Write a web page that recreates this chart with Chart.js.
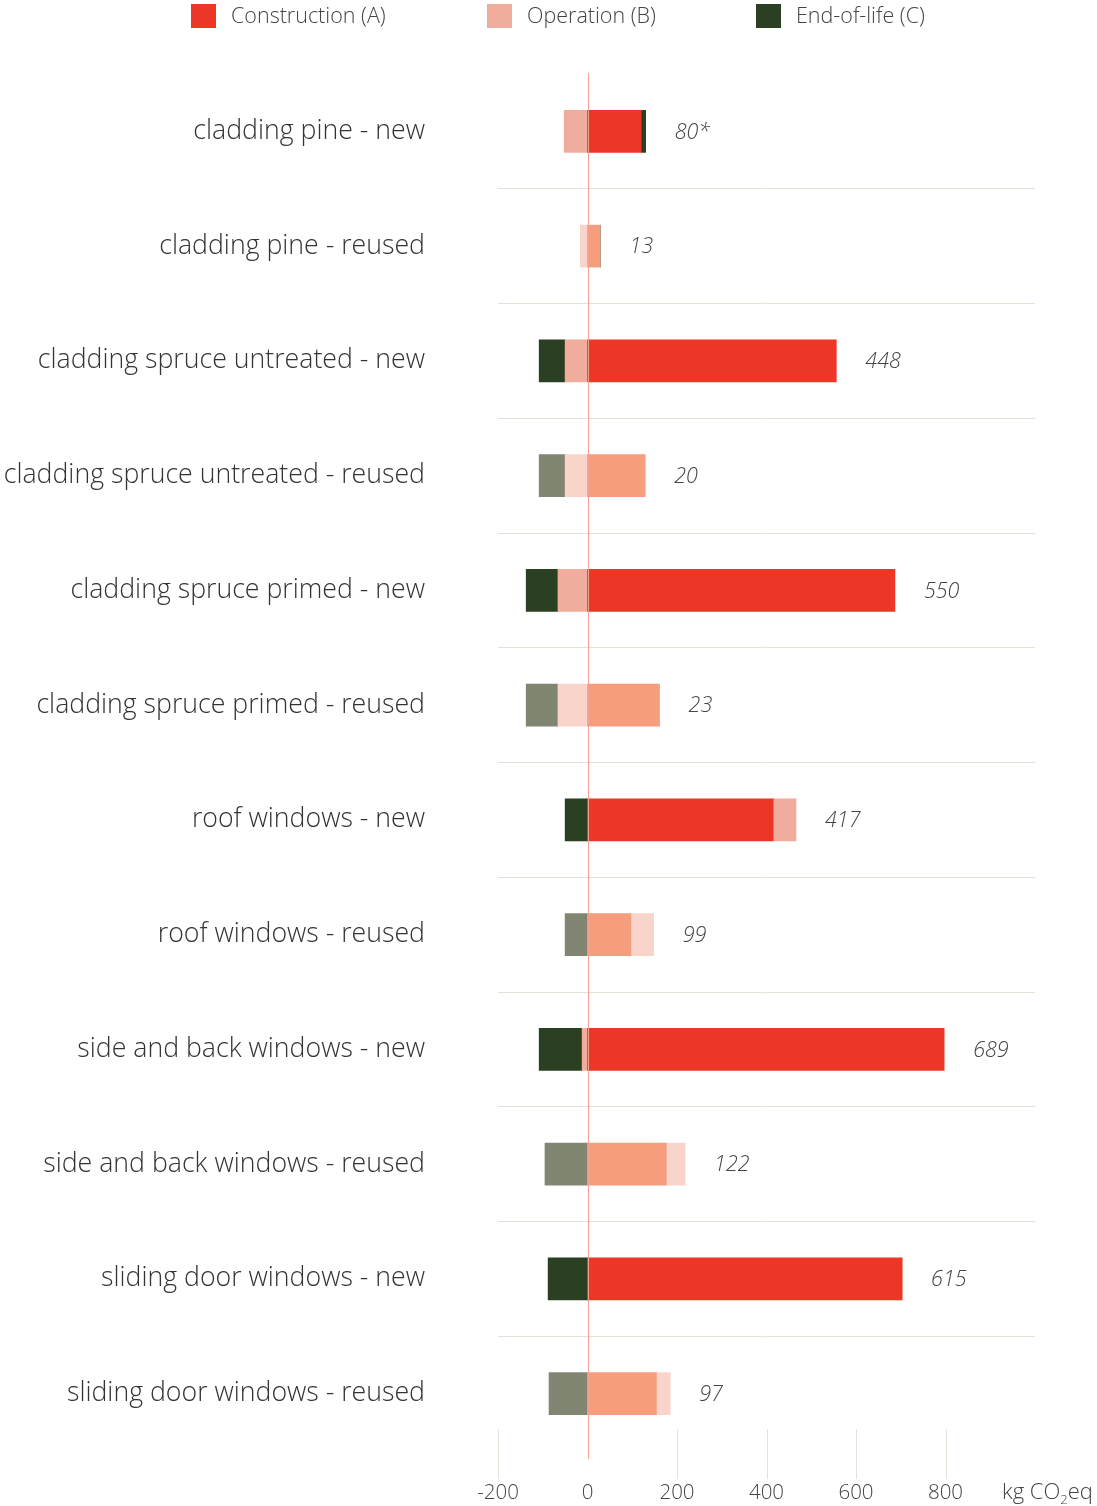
<!DOCTYPE html>
<html>
<head>
<meta charset="utf-8">
<script src="https://cdn.jsdelivr.net/npm/chart.js@4/dist/chart.umd.min.js"></script>
<style>
  html, body { margin: 0; padding: 0; background: #ffffff; }
  #wrap { position: relative; width: 1097px; height: 1506px; }
</style>
</head>
<body>
<div id="wrap"><canvas id="c" width="1097" height="1506"></canvas></div>
<script>
const categories = [
  'cladding pine - new',
  'cladding pine - reused',
  'cladding spruce untreated - new',
  'cladding spruce untreated - reused',
  'cladding spruce primed - new',
  'cladding spruce primed - reused',
  'roof windows - new',
  'roof windows - reused',
  'side and back windows - new',
  'side and back windows - reused',
  'sliding door windows - new',
  'sliding door windows - reused'
];
const construction = [120, 28, 556, 129, 687, 161, 415, 97, 797, 176, 703, 154];
const operation    = [-52, -16, -50, -50, -66, -66, 51, 51, -12, 42, 0, 31];
const endOfLife    = [10, 1, -58, -58, -71, -71, -50, -50, -96, -95, -88, -86];
const totalLabels  = ['80*', '13', '448', '20', '550', '23', '417', '99', '689', '122', '615', '97'];
const xTicks = [-200, 0, 200, 400, 600, 800];
const legendLabels = ['Construction (A)', 'Operation (B)', 'End-of-life (C)'];

const isNew = categories.map(c => c.endsWith('- new'));
const colA = isNew.map(n => n ? '#EC3626' : '#F69D7E');
const colB = isNew.map(n => n ? '#F0AC9D' : '#F9D4CA');
const colC = isNew.map(n => n ? '#2B3F22' : '#808672');
const legendColors = ['#EC3626', '#F0AC9D', '#2B3F22'];

const FONT = '"Open Sans", Lato, sans-serif';

const extras = {
  id: 'extras',
  afterDatasetsDraw(chart) {
    const ctx = chart.ctx;
    const xs = chart.scales.x, ys = chart.scales.y;
    const area = chart.chartArea;
    ctx.save();
    ctx.lineWidth = 1;
    xTicks.forEach(v => {
      if (v === 0) return;
      const px = Math.round(xs.getPixelForValue(v)) + 0.5;
      ctx.strokeStyle = '#E1E5DA';
      ctx.beginPath();
      ctx.moveTo(px, 1429);
      ctx.lineTo(px, 1479);
      ctx.stroke();
    });
    const z = Math.round(xs.getPixelForValue(0)) + 0.5;
    ctx.strokeStyle = '#F4A090';
    ctx.beginPath();
    ctx.moveTo(z, area.top - 1);
    ctx.lineTo(z, 1459);
    ctx.stroke();
    ctx.font = 'italic 300 21.5px ' + FONT;
    ctx.fillStyle = '#444444';
    ctx.textAlign = 'left';
    ctx.textBaseline = 'middle';
    categories.forEach((c, i) => {
      let pos = 0;
      [construction, operation, endOfLife].forEach(arr => { if (arr[i] > 0) pos += arr[i]; });
      const px = xs.getPixelForValue(pos) + 29;
      const py = ys.getPixelForValue(i) + 1;
      ctx.fillText(totalLabels[i], px, py);
    });
    ctx.font = '300 22px ' + FONT;
    ctx.fillStyle = '#444444';
    ctx.textBaseline = 'alphabetic';
    let ux = 1002;
    const uy = 1499;
    ctx.fillText('kg CO', ux, uy);
    ux += ctx.measureText('kg CO').width;
    ctx.font = '300 13px ' + FONT;
    ctx.fillText('2', ux, uy + 5);
    ux += ctx.measureText('2').width;
    ctx.font = '300 22px ' + FONT;
    ctx.fillText('eq', ux, uy);
    const lx = [191, 487, 756];
    ctx.font = '300 21.5px ' + FONT;
    ctx.textBaseline = 'middle';
    legendLabels.forEach((t, k) => {
      ctx.fillStyle = legendColors[k];
      ctx.fillRect(lx[k], 4, 25, 24);
      ctx.fillStyle = '#444444';
      ctx.fillText(t, lx[k] + 40, 17);
    });
    ctx.restore();
  }
};

new Chart(document.getElementById('c'), {
  type: 'bar',
  data: {
    labels: categories,
    datasets: [
      { label: legendLabels[0], data: construction, backgroundColor: colA, barThickness: 42 },
      { label: legendLabels[1], data: operation, backgroundColor: colB, barThickness: 42 },
      { label: legendLabels[2], data: endOfLife, backgroundColor: colC, barThickness: 42 }
    ]
  },
  options: {
    indexAxis: 'y',
    responsive: false,
    animation: false,
    layout: { padding: { left: 0, right: 62, top: 74, bottom: 0 } },
    plugins: { legend: { display: false }, tooltip: { enabled: false } },
    scales: {
      x: {
        stacked: true,
        min: -200,
        max: 1000,
        border: { display: false },
        grid: { display: false },
        afterBuildTicks(scale) { scale.ticks = xTicks.map(v => ({ value: v })); },
        afterFit(scale) {
          scale.height = 55;
          scale.paddingLeft = 0; scale.paddingRight = 0;
          scale.paddingTop = 0; scale.paddingBottom = 0;
        },
        ticks: {
          padding: 22,
          color: '#444444',
          font: { family: FONT, size: 20.5, weight: '300' }
        }
      },
      y: {
        stacked: true,
        border: { display: false },
        afterFit(scale) {
          scale.width = 498;
          scale.paddingTop = 0; scale.paddingBottom = 0;
          scale.paddingLeft = 0; scale.paddingRight = 0;
        },
        grid: {
          offset: true,
          drawTicks: false,
          color: ctx => (ctx.type !== 'tick' || ctx.index === 0) ? 'rgba(0,0,0,0)' : '#DFE5D6',
          lineWidth: 1
        },
        ticks: {
          padding: 73,
          color: '#333333',
          font: { family: FONT, size: 26.7, weight: '300' }
        }
      }
    }
  },
  plugins: [extras]
});
</script>
</body>
</html>
